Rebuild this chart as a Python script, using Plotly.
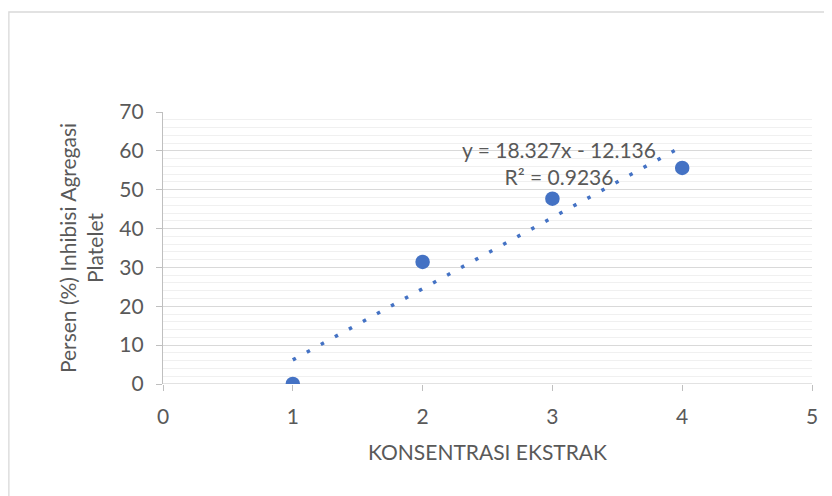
import numpy as np
import plotly.graph_objects as go

konsentrasi = [1, 2, 3, 4]
inhibisi = [0.0, 31.4, 47.7, 55.62]
x_ticks = [0, 1, 2, 3, 4, 5]
y_ticks = [0, 10, 20, 30, 40, 50, 60, 70]
eq_text = "y = 18.327x - 12.136<br>R² = 0.9236"

slope, intercept = np.polyfit(konsentrasi, inhibisi, 1)
tx = [min(konsentrasi), max(konsentrasi)]
ty = [slope * v + intercept for v in tx]

font_family = "Lato, 'Open Sans', sans-serif"
grey = "#595959"
fs = 21

fig = go.Figure()
fig.add_trace(go.Scatter(x=tx, y=ty, mode="lines",
                         line=dict(color="#4472C4", width=3.5, dash="3.5px,12.5px"),
                         hoverinfo="skip", showlegend=False))
fig.add_trace(go.Scatter(x=konsentrasi, y=inhibisi, mode="markers",
                         marker=dict(color="#4472C4", size=14.5), showlegend=False))

fig.add_annotation(x=3.05, y=56.8, xref="x", yref="y", text=eq_text, showarrow=False,
                   align="center", font=dict(family=font_family, size=fs, color=grey))

fig.add_shape(type="rect", xref="paper", yref="paper", x0=-0.2375, x1=1.1,
              y0=-0.6, y1=1.3676, line=dict(color="#D9D9D9", width=1.3), layer="below")

fig.update_layout(
    width=832, height=496,
    margin=dict(l=155, r=28, t=104, b=120),
    paper_bgcolor="white", plot_bgcolor="white",
    font=dict(family=font_family, size=fs, color=grey),
    xaxis=dict(range=[0, 5], tickvals=x_ticks, showgrid=False, zeroline=False,
               showline=False, ticks="outside", ticklen=6, tickcolor="#BFBFBF",
               ticklabelstandoff=8,
               tickfont=dict(size=fs, color=grey),
               title=dict(text="KONSENTRASI EKSTRAK", font=dict(size=fs, color=grey), standoff=18)),
    yaxis=dict(range=[0, 70], tickvals=y_ticks, showgrid=True, gridcolor="#D9D9D9", gridwidth=1.3,
               zeroline=False, showline=True, linecolor="#BFBFBF", linewidth=1.3,
               ticks="outside", ticklen=6, tickcolor="#BFBFBF",
               ticklabelstandoff=8,
               minor=dict(dtick=2, showgrid=True, gridcolor="#F0F0F0", gridwidth=1),
               tickfont=dict(size=fs, color=grey),
               title=dict(text="Persen (%) Inhibisi Agregasi<br>Platelet",
                          font=dict(size=fs, color=grey), standoff=9)),
)
fig.add_shape(type="line", xref="x", yref="y", x0=0, x1=5, y0=0, y1=0,
              line=dict(color="#D9D9D9", width=1.3), layer="below")

fig.write_html("out.html")
